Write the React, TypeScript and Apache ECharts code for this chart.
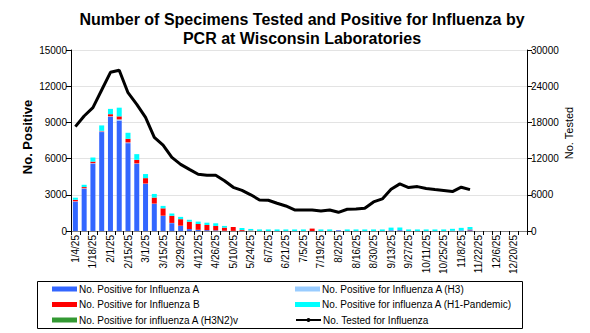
import React, { useEffect, useRef } from "react";
import * as echarts from "echarts";

const weeks = [
  "1/4/25", "1/11/25", "1/18/25", "1/25/25", "2/1/25", "2/8/25", "2/15/25", "2/22/25",
  "3/1/25", "3/8/25", "3/15/25", "3/22/25", "3/29/25", "4/5/25", "4/12/25", "4/19/25",
  "4/26/25", "5/3/25", "5/10/25", "5/17/25", "5/24/25", "5/31/25", "6/7/25", "6/14/25",
  "6/21/25", "6/28/25", "7/5/25", "7/12/25", "7/19/25", "7/26/25", "8/2/25", "8/9/25",
  "8/16/25", "8/23/25", "8/30/25", "9/6/25", "9/13/25", "9/20/25", "9/27/25", "10/4/25",
  "10/11/25", "10/18/25", "10/25/25", "11/1/25", "11/8/25", "11/15/25", "11/22/25",
  "11/29/25", "12/6/25", "12/13/25", "12/20/25", "12/27/25",
];

const fluA = [
  2430, 3500, 5580, 8200, 9450, 9150, 7280, 5560, 3900, 2250, 1250, 650, 430, 160, 100, 70,
  50, 20, 10, 10, 10, 0, 0, 0, 0, 0, 0, 0, 0, 0, 60, 0,
  0, 0, 0, 0, 60, 70, 0, 0, 0, 0, 0, 20, 50, 60,
];
const fluAH3 = [
  30, 40, 40, 60, 50, 100, 60, 40, 30, 20, 20, 20, 10, 0, 0, 0,
  0, 0, 0, 0, 0, 0, 0, 0, 0, 0, 0, 0, 0, 0, 0, 0,
  0, 0, 0, 0, 0, 0, 0, 0, 0, 0, 0, 0, 0, 0,
];
const fluB = [
  130, 100, 130, 40, 180, 250, 300, 300, 450, 500, 610, 590, 540, 610, 480, 430,
  370, 260, 320, 70, 30, 0, 0, 0, 0, 0, 0, 200, 0, 0, 0, 0,
  0, 0, 0, 0, 0, 0, 0, 0, 0, 0, 0, 0, 0, 60,
];
const fluAH1 = [
  170, 190, 340, 450, 440, 720, 500, 470, 340, 300, 200, 190, 190, 160, 200, 190,
  220, 140, 0, 170, 130, 130, 130, 130, 130, 130, 130, 0, 130, 130, 0, 130,
  130, 130, 130, 130, 220, 220, 130, 130, 130, 130, 130, 160, 210, 210,
];
const fluAH3N2v = [
  0, 0, 0, 0, 0, 0, 0, 0, 0, 0, 0, 0, 0, 0, 0, 0,
  0, 0, 0, 0, 0, 0, 0, 0, 0, 0, 0, 0, 0, 0, 0, 0,
  0, 0, 0, 0, 0, 0, 0, 0, 0, 0, 0, 0, 0, 0,
];
const tested = [
  17300, 19060, 20440, 23370, 26300, 26650, 22920, 21000, 18840, 15530, 14250, 12210,
  11050, 10220, 9400, 9230, 9230, 8340, 7240, 6740, 6000, 5150, 5100, 4600,
  4150, 3490, 3490, 3490, 3320, 3490, 3100, 3600, 3650, 3770, 4820, 5320,
  6930, 7810, 7200, 7360, 7030, 6860, 6700, 6530, 7260, 6860,
];

const FONT = "'Liberation Sans', Arial, sans-serif";

const legendItems = [
  { name: "No. Positive for Influenza A", col: 0, row: 0, icon: "rect" },
  { name: "No. Positive for Influenza A (H3)", col: 1, row: 0, icon: "rect" },
  { name: "No. Positive for Influenza B", col: 0, row: 1, icon: "rect" },
  { name: "No. Positive for influenza A (H1-Pandemic)", col: 1, row: 1, icon: "rect" },
  { name: "No. Positive for influenza A (H3N2)v", col: 0, row: 2, icon: "rect" },
  { name: "No. Tested for Influenza", col: 1, row: 2, icon: undefined },
];

export default function App() {
  const ref = useRef<HTMLDivElement>(null);
  useEffect(() => {
    document.body.style.margin = "0";
    if (!ref.current) return;
    const chart = echarts.init(ref.current, undefined, { renderer: "svg" });
    const barBase = {
      type: "bar" as const,
      stack: "pos",
      barWidth: 5,
      xAxisIndex: 0,
      yAxisIndex: 0,
    };
    chart.setOption({
      animation: false,
      backgroundColor: "#ffffff",
      textStyle: { fontFamily: FONT },
      title: {
        text: "Number of Specimens Tested and Positive for Influenza by\nPCR at Wisconsin Laboratories",
        left: 297,
        textAlign: "center",
        top: 5,
        textStyle: { fontFamily: FONT, fontSize: 16, fontWeight: "bold", color: "#000", lineHeight: 19 },
      },
      grid: { left: 71, right: 63, top: 50, bottom: 102, containLabel: false },
      xAxis: [
        {
          type: "category",
          data: weeks,
          boundaryGap: true,
          axisLine: { lineStyle: { color: "#000", width: 1 } },
          axisTick: { show: true, interval: 0, length: 4, lineStyle: { color: "#000" } },
          axisLabel: {
            interval: 1,
            rotate: 90,
            fontSize: 10,
            color: "#000",
            fontFamily: FONT,
            margin: 4,
          },
          splitLine: { show: false },
        },
        {
          type: "category",
          data: weeks,
          position: "top",
          axisLine: { lineStyle: { color: "#808080", width: 1 } },
          axisTick: { show: false },
          axisLabel: { show: false },
          splitLine: { show: false },
        },
      ],
      yAxis: [
        {
          type: "value",
          min: 0,
          max: 15000,
          interval: 3000,
          axisLine: { show: true, lineStyle: { color: "#000" } },
          axisTick: { show: true, length: 5, lineStyle: { color: "#000" } },
          axisLabel: { fontSize: 10, color: "#000", fontFamily: FONT, margin: 4, formatter: (v: number) => String(v) },
          splitLine: { show: true, lineStyle: { color: "#e3e3e3", width: 1 } },
        },
        {
          type: "value",
          min: 0,
          max: 30000,
          interval: 6000,
          position: "right",
          axisLine: { show: true, lineStyle: { color: "#000" } },
          axisTick: { show: true, length: 5, lineStyle: { color: "#000" } },
          axisLabel: { fontSize: 10, color: "#000", fontFamily: FONT, margin: 4, formatter: (v: number) => String(v) },
          splitLine: { show: false },
        },
      ],
      legend: legendItems.map((it) => ({
        left: it.col === 0 ? 52 : 295,
        top: 283 + it.row * 15.5,
        padding: 0,
        itemWidth: 25,
        itemHeight: 5,
        selectedMode: false,
        textStyle: { fontFamily: FONT, fontSize: 10, color: "#000", lineHeight: 12, padding: [0, 0, 0, -3] },
        data: [it.icon ? { name: it.name, icon: it.icon } : { name: it.name }],
      })),
      graphic: [
        {
          type: "rect",
          shape: { x: 37.5, y: 281.5, width: 485, height: 47 },
          style: { fill: "none", stroke: "#000", lineWidth: 1 },
          silent: true,
        },
        {
          type: "text",
          x: 27,
          y: 137,
          rotation: Math.PI / 2,
          silent: true,
          style: {
            text: "No. Positive",
            fill: "#000",
            font: `bold 13px ${FONT}`,
            align: "center",
            verticalAlign: "middle",
            textAlign: "center",
            textVerticalAlign: "middle",
          },
        },
        {
          type: "text",
          x: 569,
          y: 133,
          rotation: Math.PI / 2,
          silent: true,
          style: {
            text: "No. Tested",
            fill: "#000",
            font: `11px ${FONT}`,
            align: "center",
            verticalAlign: "middle",
            textAlign: "center",
            textVerticalAlign: "middle",
          },
        },
      ],
      series: [
        { ...barBase, name: "No. Positive for Influenza A", data: fluA, itemStyle: { color: "#3366ff" } },
        { ...barBase, name: "No. Positive for Influenza A (H3)", data: fluAH3, itemStyle: { color: "#99ccff" } },
        { ...barBase, name: "No. Positive for Influenza B", data: fluB, itemStyle: { color: "#ff0000" } },
        { ...barBase, name: "No. Positive for influenza A (H1-Pandemic)", data: fluAH1, itemStyle: { color: "#00ffff" } },
        { ...barBase, name: "No. Positive for influenza A (H3N2)v", data: fluAH3N2v, itemStyle: { color: "#339933" } },
        {
          type: "line",
          name: "No. Tested for Influenza",
          data: tested,
          xAxisIndex: 0,
          yAxisIndex: 1,
          symbol: "none",
          showSymbol: false,
          lineStyle: { color: "#000", width: 3 },
          itemStyle: { color: "#000" },
          z: 5,
        },
      ],
    });
    return () => chart.dispose();
  }, []);
  return <div ref={ref} style={{ width: 590, height: 333 }} />;
}
